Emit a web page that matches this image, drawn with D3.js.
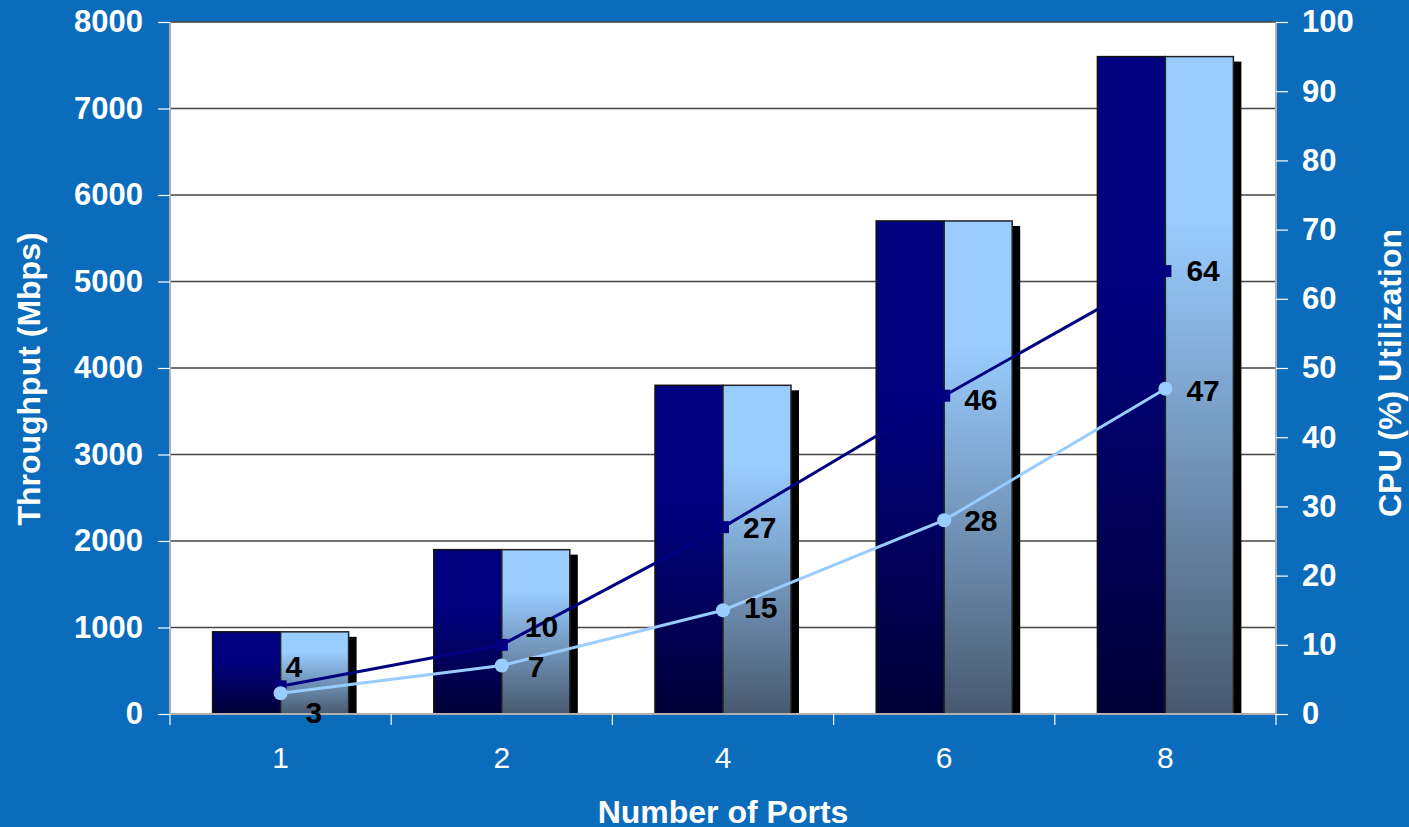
<!DOCTYPE html>
<html lang="en">
<head>
  <meta charset="UTF-8">
  <title>Throughput and CPU Utilization</title>
  <script src="https://d3js.org/d3.v7.min.js"></script>
  <style>
    body {
      margin: 0;
      background-color: #0b6cbc;
      font-family: "Liberation Sans", Arial, sans-serif;
    }
  </style>
</head>
<body>
  <svg id="chart" width="1409" height="827"></svg>
  <script>
    const ports = ["1", "2", "4", "6", "8"];
    const throughputA = [950, 1900, 3800, 5700, 7600];
    const throughputB = [950, 1900, 3800, 5700, 7600];
    const cpuA = [4, 10, 27, 46, 64];
    const cpuB = [3, 7, 15, 28, 47];
    const leftTicks = [0, 1000, 2000, 3000, 4000, 5000, 6000, 7000, 8000];
    const rightTicks = [0, 10, 20, 30, 40, 50, 60, 70, 80, 90, 100];

    const width = 1409, height = 827;
    const margin = { top: 22, right: 133, bottom: 113, left: 170 };
    const font = "'Liberation Sans', Arial, sans-serif";
    const svg = d3.select("#chart");

    const defs = svg.append("defs");
    const gradDark = defs.append("linearGradient").attr("id", "gDark").attr("x1", 0).attr("y1", 0).attr("x2", 0).attr("y2", 1);
    gradDark.append("stop").attr("offset", "0%").attr("stop-color", "#000080");
    gradDark.append("stop").attr("offset", "35%").attr("stop-color", "#000080");
    gradDark.append("stop").attr("offset", "100%").attr("stop-color", "#000036");
    const gradLight = defs.append("linearGradient").attr("id", "gLight").attr("x1", 0).attr("y1", 0).attr("x2", 0).attr("y2", 1);
    gradLight.append("stop").attr("offset", "0%").attr("stop-color", "#99ccff");
    gradLight.append("stop").attr("offset", "25%").attr("stop-color", "#99ccff");
    gradLight.append("stop").attr("offset", "100%").attr("stop-color", "#48596e");

    const x = d3.scaleBand().domain(ports).range([margin.left, width - margin.right]);
    const yL = d3.scaleLinear().domain([0, 8000]).range([height - margin.bottom, margin.top]);
    const yR = d3.scaleLinear().domain([0, 100]).range([height - margin.bottom, margin.top]);

    // plot area
    svg.append("rect")
      .attr("x", margin.left).attr("y", margin.top)
      .attr("width", width - margin.left - margin.right)
      .attr("height", height - margin.top - margin.bottom)
      .attr("fill", "#ffffff");

    // gridlines
    svg.append("g").selectAll("line")
      .data(leftTicks.slice(1))
      .join("line")
      .attr("x1", margin.left).attr("x2", width - margin.right)
      .attr("y1", d => yL(d)).attr("y2", d => yL(d))
      .attr("stroke", "#444").attr("stroke-width", 1.3);

    // borders
    svg.append("line").attr("x1", margin.left).attr("x2", margin.left)
      .attr("y1", margin.top).attr("y2", height - margin.bottom)
      .attr("stroke", "#b0b0b0").attr("stroke-width", 2);
    svg.append("line").attr("x1", width - margin.right).attr("x2", width - margin.right)
      .attr("y1", margin.top).attr("y2", height - margin.bottom)
      .attr("stroke", "#b0b0b0").attr("stroke-width", 2);

    const barW = 68;
    const bars = svg.append("g");
    ports.forEach((p, i) => {
      const cx = x(p) + x.bandwidth() / 2;
      // shadow
      bars.append("rect")
        .attr("x", cx - barW + 8).attr("y", yL(throughputB[i]) + 5)
        .attr("width", barW * 2).attr("height", yL(0) - yL(throughputB[i]) - 5)
        .attr("fill", "#000");
      bars.append("rect")
        .attr("x", cx - barW).attr("y", yL(throughputA[i]))
        .attr("width", barW).attr("height", yL(0) - yL(throughputA[i]))
        .attr("fill", "url(#gDark)").attr("stroke", "#111").attr("stroke-width", 1.5);
      bars.append("rect")
        .attr("x", cx).attr("y", yL(throughputB[i]))
        .attr("width", barW).attr("height", yL(0) - yL(throughputB[i]))
        .attr("fill", "url(#gLight)").attr("stroke", "#222").attr("stroke-width", 1.5);
    });

    // bottom border over bars
    svg.append("line").attr("x1", margin.left).attr("x2", width - margin.right)
      .attr("y1", height - margin.bottom).attr("y2", height - margin.bottom)
      .attr("stroke", "#b0b0b0").attr("stroke-width", 2);

    // axes
    const axisL = svg.append("g").attr("transform", `translate(${margin.left},0)`)
      .call(d3.axisLeft(yL).tickValues(leftTicks).tickFormat(d3.format("d")).tickSize(12).tickPadding(15));
    const axisR = svg.append("g").attr("transform", `translate(${width - margin.right},0)`)
      .call(d3.axisRight(yR).tickValues(rightTicks).tickFormat(d3.format("d")).tickSize(12).tickPadding(14));
    [axisL, axisR].forEach(a => {
      a.select(".domain").remove();
      a.selectAll("line").attr("stroke", "#fff").attr("stroke-width", 1.2);
      a.selectAll("text").attr("fill", "#fff").style("font-size", "31px").style("font-weight", "bold")
        .style("font-family", font);
    });

    const axisB = svg.append("g").attr("transform", `translate(0,${height - margin.bottom})`)
      .call(d3.axisBottom(x).tickSize(0).tickPadding(33));
    axisB.select(".domain").remove();
    axisB.selectAll("text").attr("fill", "#fff").style("font-size", "30px")
      .style("font-family", font);
    // category boundary ticks
    svg.append("g").selectAll("line")
      .data(d3.range(ports.length + 1))
      .join("line")
      .attr("x1", i => margin.left + i * x.bandwidth()).attr("x2", i => margin.left + i * x.bandwidth())
      .attr("y1", height - margin.bottom).attr("y2", height - margin.bottom + 11)
      .attr("stroke", "#fff").attr("stroke-width", 1.2);

    // lines
    const cxOf = p => x(p) + x.bandwidth() / 2;
    const lineA = d3.line().x((d, i) => cxOf(ports[i])).y(d => yR(d));
    svg.append("path").datum(cpuA).attr("d", lineA).attr("fill", "none").attr("stroke", "#000080").attr("stroke-width", 3);
    svg.append("path").datum(cpuB).attr("d", lineA).attr("fill", "none").attr("stroke", "#99ccff").attr("stroke-width", 3);

    svg.append("g").selectAll("rect").data(cpuA).join("rect")
      .attr("x", (d, i) => cxOf(ports[i]) - 6).attr("y", d => yR(d) - 6)
      .attr("width", 12).attr("height", 12).attr("fill", "#000080");
    svg.append("g").selectAll("circle").data(cpuB).join("circle")
      .attr("cx", (d, i) => cxOf(ports[i])).attr("cy", d => yR(d))
      .attr("r", 7).attr("fill", "#99ccff");

    // value labels
    const labOffA = [[5, -9], [23, -8], [20, 11], [20, 14], [21, 10]];
    const labOffB = [[25, 30], [26, 11], [21, 8], [20, 11], [21, 12]];
    const labelStyle = s => s.attr("fill", "#000").style("font-size", "30px").style("font-weight", "bold")
      .style("font-family", font);
    svg.append("g").selectAll("text").data(cpuA).join("text")
      .attr("x", (d, i) => cxOf(ports[i]) + labOffA[i][0]).attr("y", (d, i) => yR(d) + labOffA[i][1])
      .text(d => d).call(labelStyle);
    svg.append("g").selectAll("text").data(cpuB).join("text")
      .attr("x", (d, i) => cxOf(ports[i]) + labOffB[i][0]).attr("y", (d, i) => yR(d) + labOffB[i][1])
      .text(d => d).call(labelStyle);

    // axis titles
    const titleStyle = s => s.attr("fill", "#fff").style("font-size", "32px").style("font-weight", "bold")
      .style("font-family", font).attr("text-anchor", "middle");
    svg.append("text").attr("transform", `translate(40,${(margin.top + height - margin.bottom) / 2 + 11}) rotate(-90)`)
      .text("Throughput (Mbps)").call(titleStyle);
    svg.append("text").attr("transform", `translate(1401,${(margin.top + height - margin.bottom) / 2 + 5}) rotate(-90)`)
      .text("CPU (%) Utilization").call(titleStyle);
    svg.append("text").attr("x", (margin.left + width - margin.right) / 2).attr("y", 823)
      .text("Number of Ports").call(titleStyle);
  </script>
</body>
</html>
